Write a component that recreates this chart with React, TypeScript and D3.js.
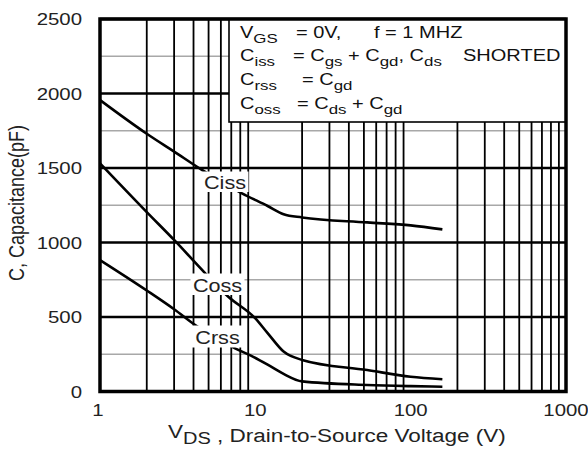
import React from "react";
import * as d3 from "d3";

const vCiss = [1, 2, 3, 4.53, 8.2, 12, 15.2, 20, 52.5, 100, 160];
const cCiss = [1956, 1730, 1610, 1487, 1330, 1245, 1190, 1168, 1135, 1115, 1088];
const vCoss = [1, 2, 3, 4.76, 6.7, 10, 12, 15.2, 20, 52.5, 100, 160];
const cCoss = [1531, 1204, 1017, 793, 636, 491, 392, 268, 212, 144, 99, 82];
const vCrss = [1, 2, 3, 4.1, 7.4, 9.3, 12, 15.2, 20, 52.5, 100, 160];
const cCrss = [882, 678, 552, 446, 290, 242, 180, 118, 68, 44, 36, 32];

const xTicks = [1, 10, 100, 1000];
const yTicks = [0, 500, 1000, 1500, 2000, 2500];
const yMinor = [250, 750, 1250, 1750, 2250];

const FONT = "'Liberation Sans', Arial, Helvetica, sans-serif";

export default function App() {
  const W = 588, H = 453;
  const x = d3.scaleLog().domain([1, 1000]).range([100, 566]);
  const y = d3.scaleLinear().domain([0, 2500]).range([391.5, 19]);

  const minorX: number[] = [];
  for (const dec of [1, 10, 100]) for (let k = 2; k <= 9; k++) minorX.push(dec * k);

  const line = d3
    .line<[number, number]>()
    .x((d) => x(d[0]))
    .y((d) => y(d[1]))
    .curve(d3.curveMonotoneX);

  const series = [
    { v: vCiss, c: cCiss },
    { v: vCoss, c: cCoss },
    { v: vCrss, c: cCrss },
  ];

  const labels = [
    { t: "Ciss", cx: 225, by: 188.5, rx: 201.5, ry: 171.5, rw: 47, rh: 20.5 },
    { t: "Coss", cx: 217.5, by: 291.5, rx: 190.5, ry: 273.5, rw: 54, rh: 21.5 },
    { t: "Crss", cx: 217.5, by: 343.5, rx: 192, ry: 325.5, rw: 51, rh: 22 },
  ];

  const SF = 13.5;
  const SD = 4.5;

  const LT = (props: { x: number; y: number; children: any }) => (
    <text
      transform={`translate(${props.x},${props.y}) scale(1.25,1)`}
      fontSize={16}
      fontFamily={FONT}
      fill="#111"
    >
      {props.children}
    </text>
  );

  const rows = [38, 61, 85, 109];

  return (
    <svg width={W} height={H} style={{ display: "block", position: "absolute", left: 0, top: 0 }}>
      <rect x={0} y={0} width={W} height={H} fill="#fff" />
      {yMinor.map((v) => (
        <line key={"ym" + v} x1={100} x2={566} y1={y(v)} y2={y(v)} stroke="#a8a8a8" strokeWidth={1.5} />
      ))}
      {minorX.map((v) => (
        <line
          key={"xm" + v}
          x1={x(v)}
          x2={x(v)}
          y1={19}
          y2={391.5}
          stroke="#000"
          strokeWidth={v === 10 || v === 100 ? 3 : 1.8}
        />
      ))}
      {yTicks.map((v) => (
        <line key={"yM" + v} x1={100} x2={566} y1={y(v)} y2={y(v)} stroke="#000" strokeWidth={2.6} />
      ))}
      {series.map((s, i) => (
        <path
          key={"s" + i}
          d={line(s.v.map((v, j) => [v, s.c[j]] as [number, number])) || ""}
          fill="none"
          stroke="#000"
          strokeWidth={2.6}
        />
      ))}
      {labels.map((l) => (
        <g key={l.t}>
          <rect x={l.rx} y={l.ry} width={l.rw} height={l.rh} fill="#fff" />
          <text
            transform={`translate(${l.cx},${l.by}) scale(1.2,1)`}
            textAnchor="middle"
            fontSize={18}
            fontFamily={FONT}
            fill="#222"
          >
            {l.t}
          </text>
        </g>
      ))}
      <rect x={229} y={19} width={337} height={103} fill="#fff" stroke="#000" strokeWidth={1.6} />
      <LT x={240} y={rows[0]}>
        V<tspan fontSize={SF} dy={SD}>GS</tspan>
      </LT>
      <LT x={296} y={rows[0]}>= 0V,</LT>
      <LT x={374} y={rows[0]}>f = 1 MHZ</LT>

      <LT x={240} y={rows[1]}>
        C<tspan fontSize={SF} dy={SD}>iss</tspan>
      </LT>
      <LT x={293} y={rows[1]}>
        = C<tspan fontSize={SF} dy={SD}>gs</tspan>
        <tspan dy={-SD}> + C</tspan>
        <tspan fontSize={SF} dy={SD}>gd</tspan>
        <tspan dy={-SD}>, C</tspan>
        <tspan fontSize={SF} dy={SD}>ds</tspan>
      </LT>
      <LT x={463} y={rows[1]}>SHORTED</LT>

      <LT x={240} y={rows[2]}>
        C<tspan fontSize={SF} dy={SD}>rss</tspan>
      </LT>
      <LT x={302} y={rows[2]}>
        = C<tspan fontSize={SF} dy={SD}>gd</tspan>
      </LT>

      <LT x={240} y={rows[3]}>
        C<tspan fontSize={SF} dy={SD}>oss</tspan>
      </LT>
      <LT x={297} y={rows[3]}>
        = C<tspan fontSize={SF} dy={SD}>ds</tspan>
        <tspan dy={-SD}> + C</tspan>
        <tspan fontSize={SF} dy={SD}>gd</tspan>
      </LT>

      <rect x={100} y={19} width={466} height={372.5} fill="none" stroke="#000" strokeWidth={3.5} />

      {yTicks.map((v) => (
        <text
          key={"yt" + v}
          transform={`translate(82,${y(v) + 6}) scale(1.2,1)`}
          textAnchor="end"
          fontSize={17}
          fontFamily={FONT}
          fill="#222"
        >
          {v}
        </text>
      ))}
      {xTicks.map((v) => (
        <text
          key={"xt" + v}
          transform={`translate(${x(v) - (v === 1 ? 2 : 0)},416) scale(1.2,1)`}
          textAnchor="middle"
          fontSize={17}
          fontFamily={FONT}
          fill="#222"
        >
          {v}
        </text>
      ))}
      <text transform={`translate(168,442) scale(1.25,1)`} fontSize={18} fontFamily={FONT} fill="#222">
        <tspan dy={-4}>V</tspan>
        <tspan fontSize={16} dy={6}>DS</tspan>
        <tspan dy={-2}> , Drain-to-Source Voltage (V)</tspan>
      </text>
      <text
        transform={`translate(24,203) scale(1.2,1) rotate(-90)`}
        textAnchor="middle"
        fontSize={18}
        fontFamily={FONT}
        fill="#222"
      >
        C, Capacitance(pF)
      </text>
    </svg>
  );
}
